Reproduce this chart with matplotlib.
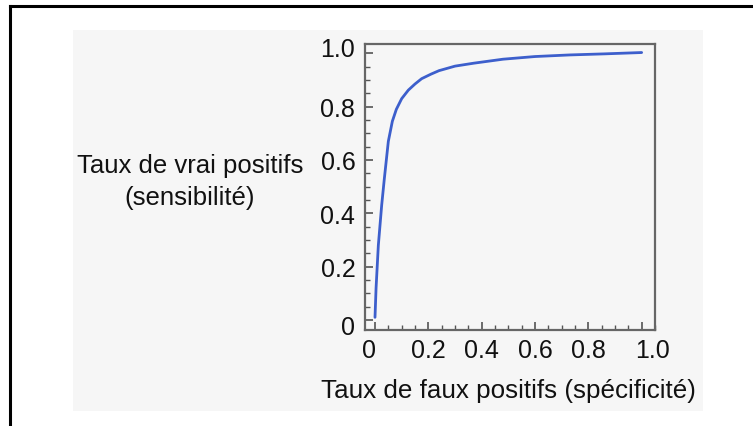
import numpy as np
import matplotlib
matplotlib.use("Agg")
import matplotlib.pyplot as plt
from matplotlib.lines import Line2D
from matplotlib.patches import Rectangle
from matplotlib.ticker import MultipleLocator
from matplotlib.transforms import ScaledTranslation

# ROC curve
fpr = [0.0, 0.004, 0.0125, 0.025, 0.035, 0.05, 0.065, 0.08, 0.1, 0.125,
       0.15, 0.175, 0.21, 0.24, 0.30, 0.37, 0.48, 0.60, 0.73, 0.86, 1.0]
tpr = [0.01, 0.12, 0.28, 0.43, 0.53, 0.67, 0.745, 0.79, 0.83, 0.862,
       0.885, 0.905, 0.922, 0.935, 0.952, 0.963, 0.978, 0.988, 0.994, 0.998, 1.003]

ticks = [0, 0.2, 0.4, 0.6, 0.8, 1.0]
tick_labels = ["0", "0.2", "0.4", "0.6", "0.8", "1.0"]

plt.rcParams['font.family'] = ['Liberation Sans', 'DejaVu Sans']

fig = plt.figure(figsize=(7.53, 4.27), dpi=100)
fig.patch.set_facecolor("white")

W, H = 753, 427
# grey panel behind the chart
fig.patches.append(Rectangle((73 / W, 1 - 412 / H), 630 / W, 381 / H,
                             transform=fig.transFigure, facecolor="#f6f6f6",
                             edgecolor="none", zorder=-5))
# black frame (top and left edges only visible)
fig.lines.append(Line2D([10 / W, 1], [1 - 7 / H, 1 - 7 / H], transform=fig.transFigure,
                        color="black", lw=2.2, zorder=-4))
fig.lines.append(Line2D([10 / W, 10 / W], [0, 1 - 7 / H], transform=fig.transFigure,
                        color="black", lw=2.2, zorder=-4))

ax = fig.add_axes([365 / W, 1 - 331 / H, 290 / W, 286 / H])
ax.set_zorder(2)
ax.set_facecolor("#f6f6f6")
ax.plot(fpr, tpr, color="#3d5fcc", lw=2.0, solid_capstyle="round")

ax.set_xlim(-0.0375, 1.05)
ax.set_ylim(-0.0375, 1.035)

ax.set_xticks(ticks)
ax.set_xticklabels(tick_labels)
ax.set_yticks(ticks)
ax.set_yticklabels(tick_labels)
ax.xaxis.set_minor_locator(MultipleLocator(0.05))
ax.yaxis.set_minor_locator(MultipleLocator(0.05))
ax.tick_params(which="both", direction="in", colors="#555555", labelcolor="#111111",
               labelsize=18, top=False, right=False)
ax.tick_params(which="major", length=6, width=1.2)
ax.tick_params(which="minor", length=3.5, width=1.0)
ax.tick_params(axis="x", pad=6)
ax.tick_params(axis="y", pad=7)

for s in ax.spines.values():
    s.set_color("#666666")
    s.set_linewidth(1.6)

# the end labels sit a bit off their ticks in the original
xl = ax.get_xticklabels()
yl = ax.get_yticklabels()
xl[0].set_transform(xl[0].get_transform() + ScaledTranslation(-6 / 100, 0, fig.dpi_scale_trans))
xl[-1].set_transform(xl[-1].get_transform() + ScaledTranslation(11 / 100, 0, fig.dpi_scale_trans))
yl[0].set_transform(yl[0].get_transform() + ScaledTranslation(0, -5 / 100, fig.dpi_scale_trans))
yl[-1].set_transform(yl[-1].get_transform() + ScaledTranslation(0, 7 / 100, fig.dpi_scale_trans))

fig.text(190 / W, 1 - 182 / H, "Taux de vrai positifs\n(sensibilité)",
         ha="center", va="center", multialignment="center", fontsize=18.5,
         linespacing=1.4, color="#111111")
fig.text(508 / W, 1 - 391 / H, "Taux de faux positifs (spécificité)",
         ha="center", va="center", fontsize=18.7, color="#111111")

fig.savefig("out.png", dpi=100)
